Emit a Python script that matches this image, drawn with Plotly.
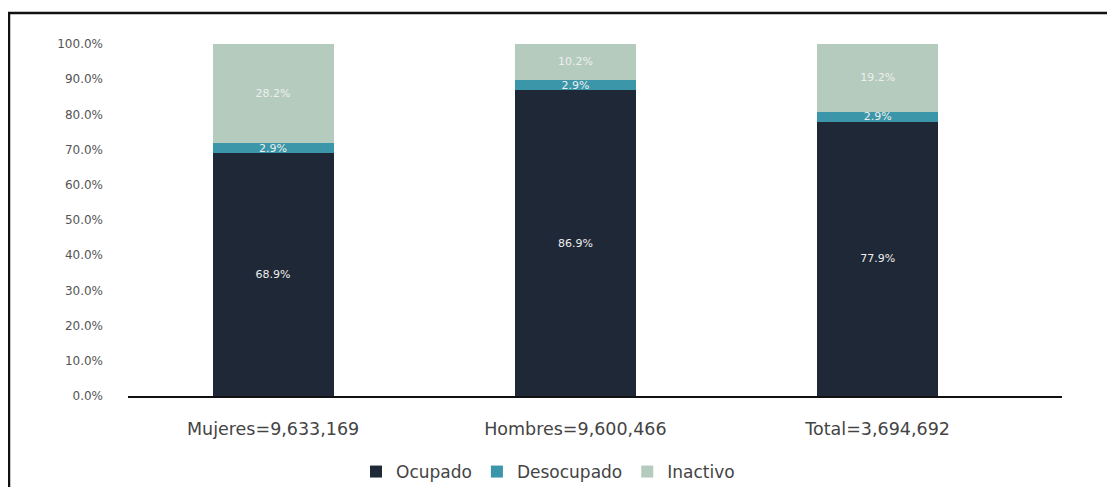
import plotly.graph_objects as go

categories = ["Mujeres=9,633,169", "Hombres=9,600,466", "Total=3,694,692"]
ocupado = [68.9, 86.9, 77.9]
desocupado = [2.9, 2.9, 2.9]
inactivo = [28.2, 10.2, 19.2]
series_names = ["Ocupado", "Desocupado", "Inactivo"]
colors = ["#1f2837", "#3a96a8", "#b5cbbe"]
tick_vals = [0, 10, 20, 30, 40, 50, 60, 70, 80, 90, 100]
tick_text = [f"{v:.1f}%" for v in tick_vals]

FONT = "DejaVu Sans"
fig = go.Figure()
for name, vals, col in zip(series_names, [ocupado, desocupado, inactivo], colors):
    fig.add_trace(go.Bar(
        x=categories, y=vals, name=name,
        marker=dict(color=col, line=dict(width=0)),
        width=0.4,
        text=[f"{v:.1f}%" for v in vals],
        textposition="inside", insidetextanchor="middle",
        constraintext="none", textangle=0,
        textfont=dict(family=FONT, size=11, color="#eeeeee"),
        hoverinfo="skip",
    ))

# page body has an 8px margin, so the figure is drawn 8px to the right and down
OFF = 8
W, H = 1115 - OFF, 487 - OFF
ml = 128 - OFF
plot_right = 1062 - OFF
y_top = 44 - OFF
y_zero = 396 - OFF
mr = W - plot_right
mt = y_top
mb = H - y_zero
pw, ph = W - ml - mr, H - mt - mb

def px(x):
    return (x - OFF - ml) / pw

def py(y):
    return (H - mb - (y - OFF)) / ph

fig.update_layout(
    width=W, height=H, barmode="stack",
    margin=dict(l=ml, r=mr, t=mt, b=mb, pad=0, autoexpand=False),
    paper_bgcolor="white", plot_bgcolor="white",
    font=dict(family=FONT, color="#444"),
    showlegend=True,
    legend=dict(orientation="h", x=px(356), xanchor="left", y=py(472), yanchor="middle",
                font=dict(family=FONT, size=17, color="#444"), traceorder="normal",
                itemwidth=30, bgcolor="rgba(0,0,0,0)"),
    xaxis=dict(range=[-0.48, 2.61], showgrid=False, showline=True, linecolor="#111",
               linewidth=2, ticks="", tickfont=dict(family=FONT, size=17.5, color="#444"),
               ticklabelstandoff=16, zeroline=False),
    yaxis=dict(range=[0, 100], tickvals=tick_vals, ticktext=tick_text, showgrid=False,
               showline=False, zeroline=False, ticks="",
               tickfont=dict(family=FONT, size=12, color="#555"), ticklabelstandoff=24),
    shapes=[
        dict(type="line", xref="paper", yref="paper", x0=px(9), x1=px(9), y0=py(13), y1=py(500),
             line=dict(color="#111", width=2.5)),
        dict(type="line", xref="paper", yref="paper", x0=px(8), x1=px(1130), y0=py(13), y1=py(13),
             line=dict(color="#111", width=2.5)),
    ],
)
fig.write_html("out.html")
